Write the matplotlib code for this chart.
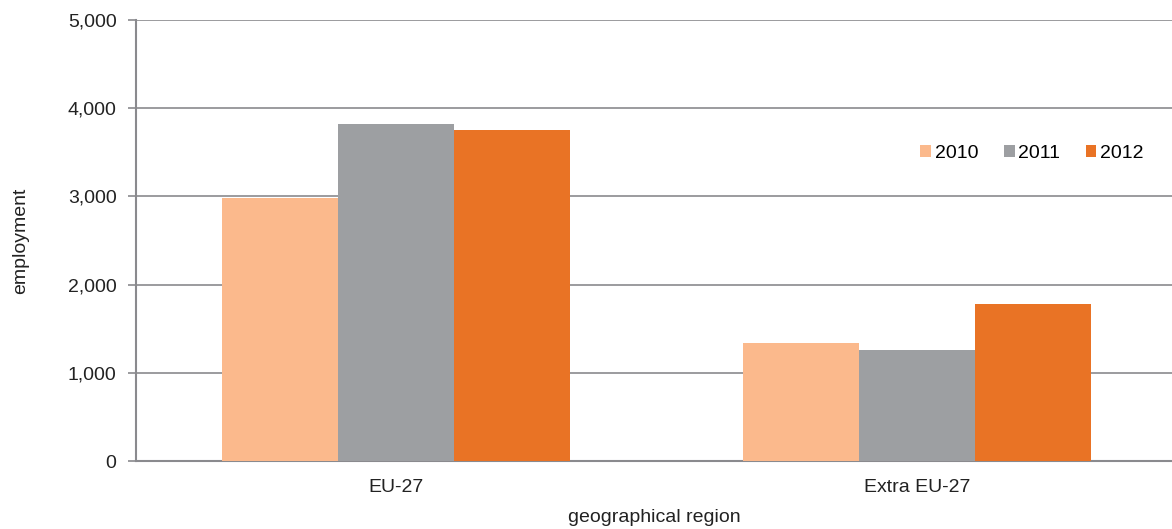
import numpy as np
import matplotlib
matplotlib.use('Agg')
import matplotlib.pyplot as plt
from matplotlib.ticker import FuncFormatter

# 数据
regions = ['EU-27', 'Extra EU-27']
years = ['2010', '2011', '2012']
v2010 = [2985, 1334]
v2011 = [3827, 1254]
v2012 = [3751, 1779]
colors = ['#FBB98C', '#9D9FA2', '#E97325']

plt.rcParams['font.family'] = ['Liberation Sans', 'DejaVu Sans']

fig = plt.figure(figsize=(11.72, 5.29), dpi=100)
ax = fig.add_axes([0.116, 0.1285, 0.884, 0.8335])

x = np.arange(len(regions))
w = 0.2226
for i, (vals, yr) in enumerate(zip([v2010, v2011, v2012], years)):
    ax.bar(x + (i - 1) * w, vals, width=w, color=colors[i], label=yr, zorder=3)

ax.set_xlim(-0.5, 1.49)
ax.set_ylim(0, 5000)
ax.set_yticks(range(0, 5001, 1000))
ax.yaxis.set_major_formatter(FuncFormatter(lambda v, p: '{:,.0f}'.format(v)))
ax.grid(axis='y', color='#8a8a8e', linewidth=1.2, zorder=0)

ax.set_xticks(x)
ax.set_xticklabels(regions)
ax.tick_params(axis='x', length=0, pad=13, labelsize=14, colors='#222222')
ax.tick_params(axis='y', length=6, width=1.2, color='#8a8a8e', pad=8,
               labelsize=14, labelcolor='#222222')

for s in ['top', 'right']:
    ax.spines[s].set_visible(False)
for s in ['left', 'bottom']:
    ax.spines[s].set_color('#8a8a8e')
    ax.spines[s].set_linewidth(1.5)

ax.set_xlabel('geographical region', fontsize=14, color='#222222', labelpad=9)
ax.set_ylabel('employment', fontsize=14, color='#222222', labelpad=28)

ax.legend(loc='center', bbox_to_anchor=(0.865, 0.698), ncol=3, frameon=False,
          fontsize=14, handlelength=0.55, handleheight=0.55, handletextpad=0.2,
          columnspacing=1.3)

fig.savefig('out.png', dpi=100)
